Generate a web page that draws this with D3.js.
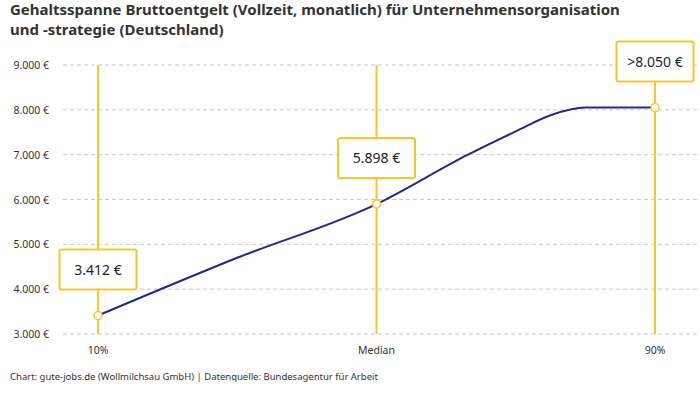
<!DOCTYPE html>
<html>
<head>
<meta charset="utf-8">
<script src="https://cdn.jsdelivr.net/npm/d3@7"></script>
<style>
  body { margin: 0; background: #fff; }
  svg { display: block; font-family: "Noto Sans", sans-serif; }
</style>
</head>
<body>
<svg id="chart"></svg>
<script>
const width = 700;
const height = 400;

// labelled points
const categories = ["10%", "Median", "90%"];
const catPercentiles = [10, 50, 90];
const catValues = [3412, 5898, 8050];
const catLabels = ["3.412 €", "5.898 €", ">8.050 €"];

// line (percentile -> euro)
const linePercentiles = [10, 30, 50, 63, 70, 75, 80, 90];
const lineValues = [3412, 4700, 5898, 6990, 7520, 7880, 8050, 8050];

const yTicks = [3000, 4000, 5000, 6000, 7000, 8000, 9000];

const yellow = "#fcc525";
const blue = "#1c2b8e";

const svg = d3.select("#chart")
  .attr("width", width)
  .attr("height", height);

const x = d3.scaleLinear().domain([10, 90]).range([98, 655]);
const y = d3.scaleLinear().domain([3000, 9000]).range([334, 65]);

const fmt = d3.formatLocale({ decimal: ",", thousands: ".", grouping: [3], currency: ["", " €"] }).format(",.0f");

// title
svg.append("text")
  .attr("x", 10).attr("y", 15)
  .attr("font-size", 15).attr("font-weight", 700).attr("fill", "#333")
  .text("Gehaltsspanne Bruttoentgelt (Vollzeit, monatlich) für Unternehmensorganisation");
svg.append("text")
  .attr("x", 10).attr("y", 35)
  .attr("font-size", 15).attr("font-weight", 700).attr("fill", "#333")
  .text("und -strategie (Deutschland)");

// grid
svg.append("g").selectAll("line")
  .data(yTicks).enter().append("line")
  .attr("x1", 63).attr("x2", width)
  .attr("y1", d => y(d)).attr("y2", d => y(d))
  .attr("stroke", "#c8c8c8")
  .attr("stroke-dasharray", "4,3");

// y axis labels
svg.append("g").selectAll("text")
  .data(yTicks).enter().append("text")
  .attr("x", 49).attr("y", d => y(d) + 4)
  .attr("text-anchor", "end")
  .attr("font-size", 10.5).attr("fill", "#333")
  .text(d => fmt(d) + " €");

// x axis labels
svg.append("g").selectAll("text")
  .data(categories).enter().append("text")
  .attr("x", (d, i) => x(catPercentiles[i]))
  .attr("y", 354)
  .attr("text-anchor", "middle")
  .attr("font-size", 10.5).attr("fill", "#333")
  .text(d => d);

// vertical marker lines
svg.append("g").selectAll("line")
  .data(catPercentiles).enter().append("line")
  .attr("x1", d => x(d)).attr("x2", d => x(d))
  .attr("y1", y(9000)).attr("y2", y(3000))
  .attr("stroke", yellow).attr("stroke-width", 2);

// the line
const line = d3.line()
  .x(d => x(d[0]))
  .y(d => y(d[1]))
  .curve(d3.curveMonotoneX);

svg.append("path")
  .datum(d3.zip(linePercentiles, lineValues))
  .attr("d", line)
  .attr("fill", "none")
  .attr("stroke", blue)
  .attr("stroke-width", 2);

// points
svg.append("g").selectAll("circle")
  .data(catPercentiles).enter().append("circle")
  .attr("cx", d => x(d))
  .attr("cy", (d, i) => y(catValues[i]))
  .attr("r", 4)
  .attr("fill", "#fff")
  .attr("stroke", yellow).attr("stroke-width", 1.5);

// label boxes
const boxW = 77, boxH = 40;
const boxes = svg.append("g").selectAll("g")
  .data(catPercentiles).enter().append("g")
  .attr("transform", (d, i) => `translate(${x(d) - boxW / 2},${y(catValues[i]) - 26 - boxH})`);

boxes.append("rect")
  .attr("width", boxW).attr("height", boxH)
  .attr("rx", 2)
  .attr("fill", "#fff")
  .attr("stroke", yellow).attr("stroke-width", 2);

boxes.append("text")
  .attr("x", boxW / 2).attr("y", boxH / 2 + 5)
  .attr("text-anchor", "middle")
  .attr("font-size", 14).attr("fill", "#222")
  .text((d, i) => catLabels[i]);

// footer
svg.append("text")
  .attr("x", 10).attr("y", 380)
  .attr("font-size", 9.5).attr("fill", "#333")
  .text("Chart: gute-jobs.de (Wollmilchsau GmbH) | Datenquelle: Bundesagentur für Arbeit");
</script>
</body>
</html>
